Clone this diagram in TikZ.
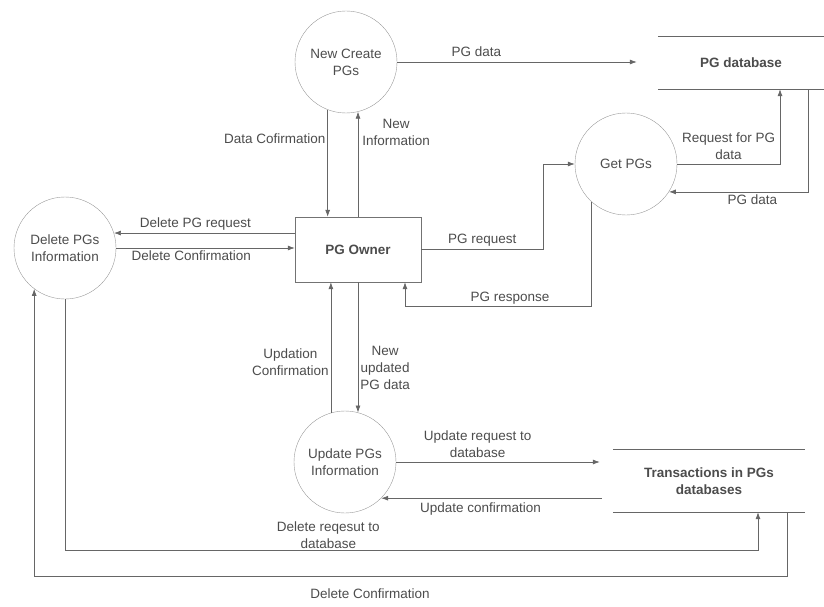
\documentclass[tikz,border=0pt]{standalone}
\usepackage{fontspec}
\setmainfont{Liberation Sans}
\usetikzlibrary{arrows.meta}

\begin{document}
\begin{tikzpicture}
    [x=1pt, y=-1pt,
     every node/.style={font=\fontsize{13.5}{17}\selectfont, text=black!70},
     process/.style={circle, draw=black!40, minimum size=102pt, inner sep=0pt, align=center},
     entity/.style={rectangle, draw=black!55, minimum width=126pt, minimum height=65pt, font=\fontsize{13.5}{17}\selectfont\bfseries},
     datastore/.style={rectangle, align=center, font=\fontsize{13.5}{17}\selectfont\bfseries},
     storeline/.style={draw=black!60, line width=0.8pt},
     flow/.style={draw=black!60, line width=0.7pt, -{Latex[length=7pt, width=5pt]}},
     flowlabel/.style={align=center, inner sep=2pt}]

    \useasboundingbox (0,0) rectangle (824,607);

    % processes and the owner
    \node[process] (create) at (346,62) {New Create\\PGs};
    \node[entity] (owner) at (358,249.5) {PG Owner};
    \node[process] (delete) at (65,248) {Delete PGs\\Information};
    \node[process] (get) at (626,164) {Get PGs};
    \node[process] (update) at (345,462) {Update PGs\\Information};

    % data stores
    \node[datastore, minimum width=166pt, minimum height=52pt] (pgdb) at (741,63) {PG database};
    \node[datastore, minimum width=192pt, minimum height=62pt] (trans) at (709,481) {Transactions in PGs\\databases};
    \draw[storeline] (pgdb.north west) -- (pgdb.north east);
    \draw[storeline] (pgdb.south west) -- (pgdb.south east);
    \draw[storeline] (trans.north west) -- (trans.north east);
    \draw[storeline] (trans.south west) -- (trans.south east);

    \coordinate (resp) at (405,306);
    \coordinate (lowA) at (0,550);
    \coordinate (lowB) at (0,576);

    % flows
    \draw[flow] (create.east) -- ([xshift=-21pt]pgdb.west |- create.east)
        node[flowlabel, above, pos=0.33, yshift=3pt] {PG data};
    \draw[flow] (create.249) -- (create.249 |- owner.north)
        node[flowlabel, left, pos=0.27] {Data Cofirmation};
    \draw[flow] (owner.north) -- (owner.north |- create.284)
        node[flowlabel, right, pos=0.8, xshift=2pt] {New\\Information};
    \draw[flow] (owner.west |- delete.17) -- (delete.17)
        node[flowlabel, above, pos=0.55] {Delete PG request};
    \draw[flow] (delete.east) -- (owner.west |- delete.east)
        node[flowlabel, below, pos=0.42] {Delete Confirmation};
    \draw[flow] (owner.east) -- node[flowlabel, above, yshift=1pt] {PG request} ++(122,0) |- (get.west);
    \draw[flow] (get.228) |- (resp) -- (resp |- owner.south);
    \node[flowlabel, above] (resplabel) at (510,306) {PG response};
    \draw[flow] (get.east) -| ([xshift=39pt]pgdb.south)
        node[flowlabel, above, pos=0.25, yshift=2pt] {Request for PG\\data};
    \draw[flow] ([xshift=67pt]pgdb.south) |- (get.327)
        node[flowlabel, below, pos=0.7] {PG data};
    \draw[flow] (update.106) -- (update.106 |- owner.south)
        node[flowlabel, left, pos=0.39] {Updation\\Confirmation};
    \draw[flow] (owner.south) -- (owner.south |- update.75)
        node[flowlabel, right, pos=0.66] {New\\updated\\PG data};
    \draw[flow] (update.east) -- ([xshift=-13pt]trans.west |- update.east)
        node[flowlabel, above, pos=0.4, yshift=2pt] {Update request to\\database};
    \draw[flow] ([xshift=-11pt]trans.west |- update.315) -- (update.315)
        node[flowlabel, below, pos=0.55, yshift=-2pt] {Update confirmation};
    \draw[flow] (delete.south) -- (delete.south |- lowA) -| ([xshift=49pt]trans.south)
        node[flowlabel, above, pos=0.19, inner sep=1pt] {Delete reqesut to\\database};
    \draw[flow] ([xshift=78pt]trans.south) -- ([xshift=78pt]trans.south |- lowB) -| (delete.233)
        node[flowlabel, below, pos=0.277, yshift=-10pt] {Delete Confirmation};
\end{tikzpicture}
\end{document}
